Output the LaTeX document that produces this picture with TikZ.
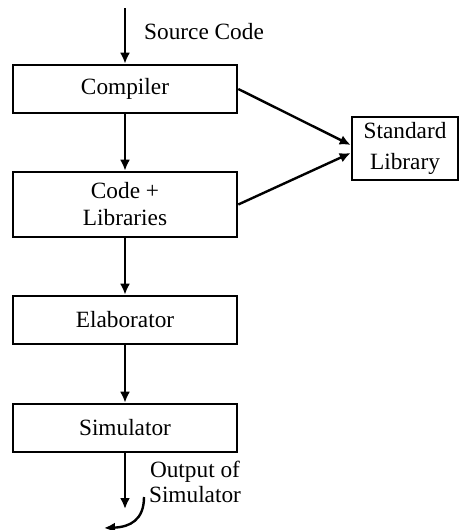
\documentclass[tikz,border=0pt]{standalone}
\usepackage{fontspec}
\setmainfont{Liberation Serif}
\usetikzlibrary{arrows.meta}
\begin{document}
\begin{tikzpicture}[x=0.5pt,y=-0.5pt,
  every node/.style={font=\fontsize{11.65pt}{13.5pt}\selectfont},
  stagebox/.style={draw, line width=1.3pt, inner sep=0pt, minimum width=112pt, minimum height=24pt, align=center},
  flow/.style={line width=1.2pt, -{Latex[length=5.5pt,width=5pt]}},
  lbl/.style={inner sep=0pt, align=center}]
\useasboundingbox (0,0) rectangle (461,530);
\node[stagebox] (comp) at (125,89) {Compiler};
\node[stagebox, minimum height=32.5pt] (cl) at (125,204.5) {Code +\\Libraries};
\node[stagebox] (elab) at (125,320) {Elaborator};
\node[stagebox] (sim) at (125,428) {Simulator};
\node[stagebox, minimum width=53pt, minimum height=31.5pt,
  font=\fontsize{11.65pt}{15.5pt}\selectfont] (std) at (405,148.5) {Standard\\Library};
\node[lbl] (src) at (204,32) {Source Code};
\node[lbl, font=\fontsize{11.65pt}{12.5pt}\selectfont] (out) at (195,482) {Output of\\Simulator};
\coordinate (in) at (125,8);
\coordinate (outend) at (125,509);
\coordinate (cs) at (144,497);
\coordinate (ce) at (104,528);
\draw[flow] (in) -- (comp.north);
\draw[flow] (comp.south) -- (cl.north);
\draw[flow] (cl.south) -- (elab.north);
\draw[flow] (elab.south) -- (sim.north);
\draw[flow] (sim.south) -- (outend);
\draw[flow] (comp.east) -- ([yshift=1.75pt]std.west);
\draw[flow] (cl.east) -- ([yshift=-2.25pt]std.west);
\draw[flow] (cs) .. controls (144,520) and (130,527) .. (ce);
\end{tikzpicture}
\end{document}
